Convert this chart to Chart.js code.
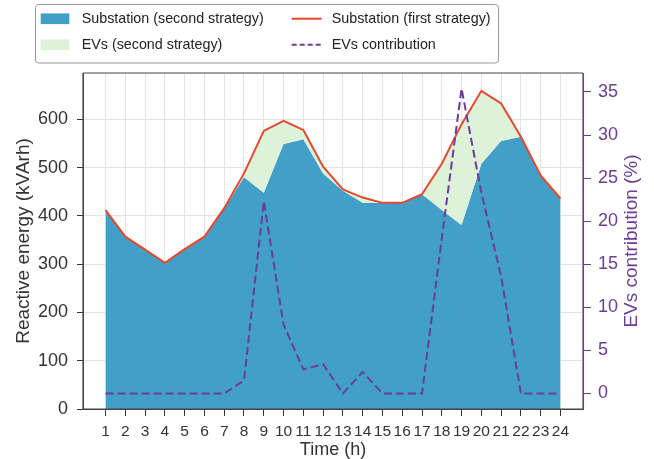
<!DOCTYPE html>
<html>
<head>
<meta charset="utf-8">
<script src="https://cdn.jsdelivr.net/npm/chart.js@4.4.1/dist/chart.umd.min.js"></script>
<style>
  body { margin: 0; background: #fff; }
  #wrap { width: 654px; height: 459px; }
</style>
</head>
<body>
<div id="wrap"><canvas id="chart" width="654" height="459"></canvas></div>
<script>
// values
const hours = [1, 2, 3, 4, 5, 6, 7, 8, 9, 10, 11, 12, 13, 14, 15, 16, 17, 18, 19, 20, 21, 22, 23, 24]
const substationSecond = [412, 357, 329, 303, 331, 357, 416, 480, 448, 549, 559, 488, 452, 427, 427, 427, 445, 412, 381, 508, 555, 564, 482, 436]
const substationFirst = [412, 357, 330, 303, 331, 357, 416, 488, 576, 597, 578, 502, 455, 438, 427, 427, 445, 508, 590, 659, 633, 564, 484, 436]
const evsContribution = [0, 0, 0, 0, 0, 0, 0, 1.5, 22.3, 8, 2.8, 3.4, 0, 2.5, 0, 0, 0, 18, 35.4, 23.3, 13.6, 0, 0, 0]
const energyTicks = [0, 100, 200, 300, 400, 500, 600]
const contribTicks = [0, 5, 10, 15, 20, 25, 30, 35]

const BLUE = '#42a0c8'
const GREEN = '#def2da'
const RED = '#e8472c'
const PURPLE = '#6a3d9a'
const TEXT = '#333'
const GRID = '#e4e4e4'
const FONT = "'Liberation Sans', Arial, sans-serif"

const pts = arr => hours.map((h, i) => ({ x: h, y: arr[i] }))

// frame around the plot (drawn over the fills)
const spines = {
    id: 'spines',
    afterDatasetsDraw(chart) {
        const { ctx, chartArea: a } = chart
        ctx.save()
        ctx.lineWidth = 1.2
        ctx.strokeStyle = '#444'
        ctx.beginPath()
        ctx.moveTo(a.left, a.top); ctx.lineTo(a.right, a.top)
        ctx.moveTo(a.left, a.top); ctx.lineTo(a.left, a.bottom)
        ctx.moveTo(a.left, a.bottom); ctx.lineTo(a.right, a.bottom)
        ctx.stroke()
        ctx.strokeStyle = PURPLE
        ctx.beginPath()
        ctx.moveTo(a.right, a.top); ctx.lineTo(a.right, a.bottom)
        ctx.stroke()
        ctx.restore()
    }
}

// two-column legend box and the right axis title
const legendBox = {
    id: 'legendBox',
    afterDraw(chart) {
        const { ctx } = chart
        const ds = chart.data.datasets
        ctx.save()
        ctx.fillStyle = '#fff'
        ctx.strokeStyle = '#999'
        ctx.lineWidth = 1
        ctx.beginPath()
        ctx.roundRect(35.5, 4.5, 463, 58.5, 3)
        ctx.fill()
        ctx.stroke()

        ctx.font = '14.3px ' + FONT
        ctx.textBaseline = 'middle'
        ctx.fillStyle = '#222'
        const rows = [18.7, 44.7]
        // col 1: filled areas
        ctx.fillStyle = ds[3].backgroundColor
        ctx.fillRect(40.7, rows[0] - 5.3, 28.6, 10.7)
        ctx.fillStyle = ds[2].backgroundColor
        ctx.fillRect(40.7, rows[1] - 5.3, 28.6, 10.7)
        ctx.fillStyle = '#222'
        ctx.fillText(ds[3].label, 81.7, rows[0])
        ctx.fillText(ds[2].label, 81.7, rows[1])
        // col 2: lines
        ctx.lineWidth = 2
        ctx.strokeStyle = ds[1].borderColor
        ctx.beginPath(); ctx.moveTo(291.7, rows[0]); ctx.lineTo(321.7, rows[0]); ctx.stroke()
        ctx.strokeStyle = ds[0].borderColor
        ctx.setLineDash([5, 3])
        ctx.beginPath(); ctx.moveTo(291.7, rows[1]); ctx.lineTo(321.7, rows[1]); ctx.stroke()
        ctx.setLineDash([])
        ctx.fillText(ds[1].label, 331.7, rows[0])
        ctx.fillText(ds[0].label, 331.7, rows[1])

        // right axis title, reading bottom to top
        const a = chart.chartArea
        ctx.translate(632, (a.top + a.bottom) / 2)
        ctx.rotate(-Math.PI / 2)
        ctx.textAlign = 'center'
        ctx.fillStyle = PURPLE
        ctx.font = '19px ' + FONT
        ctx.fillText('EVs contribution (%)', 0, 0)
        ctx.restore()
    }
}

new Chart(document.getElementById('chart'), {
    type: 'line',
    data: {
        datasets: [
            {
                label: 'EVs contribution',
                data: pts(evsContribution),
                yAxisID: 'y1',
                borderColor: PURPLE,
                borderWidth: 2,
                borderDash: [8, 4],
                pointRadius: 0,
                fill: false
            },
            {
                label: 'Substation (first strategy)',
                data: pts(substationFirst),
                yAxisID: 'y',
                borderColor: RED,
                borderWidth: 2,
                pointRadius: 0,
                fill: false
            },
            {
                label: 'EVs (second strategy)',
                data: pts(substationFirst),
                yAxisID: 'y',
                borderWidth: 0,
                borderColor: 'rgba(0,0,0,0)',
                backgroundColor: GREEN,
                pointRadius: 0,
                fill: '+1'
            },
            {
                label: 'Substation (second strategy)',
                data: pts(substationSecond),
                yAxisID: 'y',
                borderWidth: 0,
                borderColor: 'rgba(0,0,0,0)',
                backgroundColor: BLUE,
                pointRadius: 0,
                fill: 'origin'
            }
        ]
    },
    options: {
        responsive: false,
        animation: false,
        devicePixelRatio: 1,
        layout: { padding: { top: 73, left: 0, right: 0, bottom: 0 } },
        plugins: {
            legend: { display: false },
            tooltip: { enabled: false }
        },
        elements: { line: { tension: 0 } },
        scales: {
            x: {
                type: 'linear',
                bounds: 'data',
                min: -0.14,
                max: 25.14,
                afterBuildTicks: s => { s.ticks = hours.map(v => ({ value: v })) },
                afterFit: s => { s.height = 50 },
                ticks: {
                    autoSkip: false,
                    maxRotation: 0,
                    padding: 6,
                    color: TEXT,
                    font: { family: FONT, size: 15.5 }
                },
                grid: { color: GRID, tickColor: TEXT, tickLength: 7 },
                border: { color: '#444' },
                title: {
                    display: true,
                    text: 'Time (h)',
                    color: TEXT,
                    padding: 0,
                    font: { family: FONT, size: 18, lineHeight: 1 }
                }
            },
            y: {
                position: 'left',
                bounds: 'data',
                min: 0,
                max: 696,
                afterBuildTicks: s => { s.ticks = energyTicks.map(v => ({ value: v })) },
                afterFit: s => { s.width = 83 },
                ticks: {
                    padding: 9,
                    color: TEXT,
                    font: { family: FONT, size: 18 }
                },
                grid: { color: GRID, tickColor: TEXT, tickLength: 6 },
                border: { color: '#444' },
                title: {
                    display: true,
                    text: 'Reactive energy (kVArh)',
                    color: TEXT,
                    padding: { top: 14.5, bottom: 0 },
                    font: { family: FONT, size: 19, lineHeight: 1 }
                }
            },
            y1: {
                position: 'right',
                bounds: 'data',
                min: -1.8,
                max: 37.2,
                afterBuildTicks: s => { s.ticks = contribTicks.map(v => ({ value: v })) },
                afterFit: s => { s.width = 71 },
                ticks: {
                    padding: 7,
                    color: PURPLE,
                    font: { family: FONT, size: 18 }
                },
                grid: { drawOnChartArea: false, tickColor: PURPLE, tickLength: 8 },
                border: { color: PURPLE }
            }
        }
    },
    plugins: [spines, legendBox]
})
</script>
</body>
</html>
